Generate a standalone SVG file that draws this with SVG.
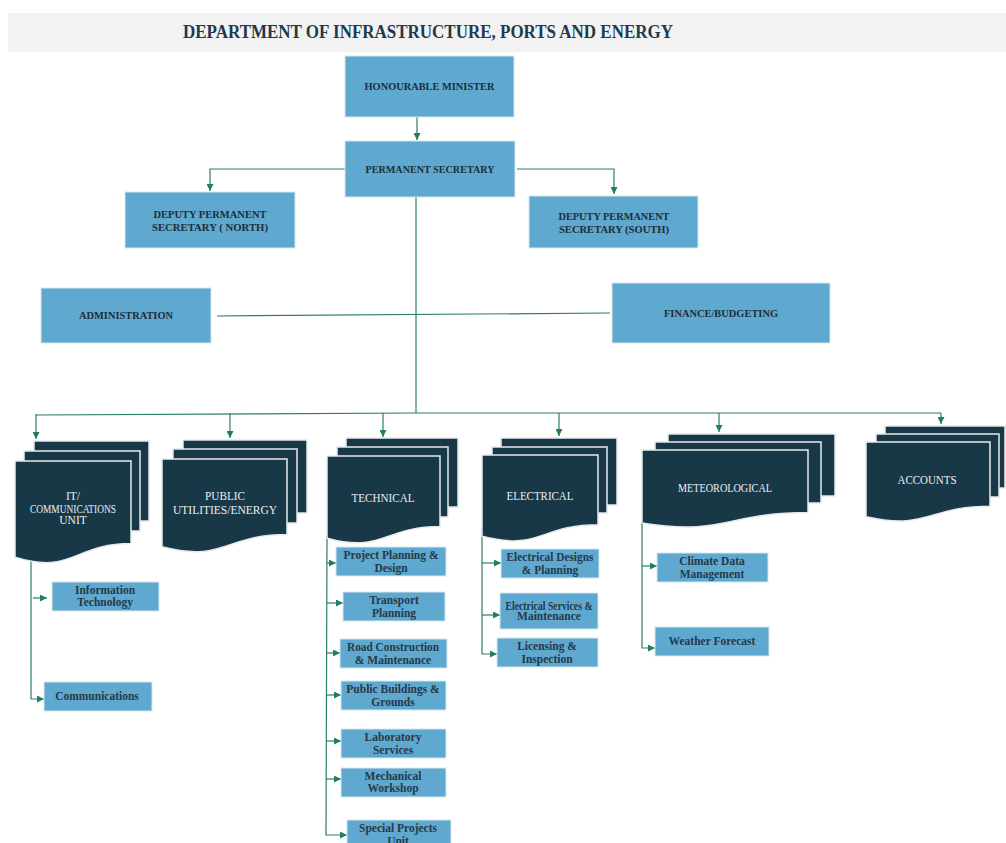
<svg xmlns="http://www.w3.org/2000/svg" width="1006" height="843" viewBox="0 0 1006 843">
<style>
.box{fill:#5fa8cf;stroke:#d6e8f2;stroke-width:1}
.dk{fill:#183848;stroke:#e6eaec;stroke-width:1.5}
.lbl{font-family:"Liberation Serif",serif;font-weight:bold;font-size:11px;fill:#1e2d38;text-anchor:middle}
.sub{font-family:"Liberation Serif",serif;font-weight:bold;font-size:11.5px;fill:#253a47;text-anchor:middle}
.wt{font-family:"Liberation Serif",serif;font-size:11.5px;fill:#e9eff2;text-anchor:middle}
.ln{fill:none;stroke:#2a7f60;stroke-width:1.2}
.ttl{font-family:"Liberation Serif",serif;font-weight:bold;font-size:18px;fill:#1d3a4e;text-anchor:middle}
</style>
<defs>
<marker id="ah" viewBox="0 0 10 10" refX="10" refY="5" markerWidth="7" markerHeight="7" markerUnits="userSpaceOnUse" orient="auto">
<path d="M0,0 L10,5 L0,10 Z" fill="#1e8060"/>
</marker>
</defs>
<rect width="1006" height="843" fill="#ffffff"/>
<g id="title">
<rect x="8" y="13" width="998" height="39" fill="#f2f2f2"/>
<text class="ttl" x="428" y="38" textLength="490" lengthAdjust="spacingAndGlyphs">DEPARTMENT OF INFRASTRUCTURE, PORTS AND ENERGY</text>
</g>
<g id="connectors">
<path class="ln" d="M417,117 V140" marker-end="url(#ah)"/>
<path class="ln" d="M345,169 H210 V191" marker-end="url(#ah)"/>
<path class="ln" d="M517,169 H614 V194" marker-end="url(#ah)"/>
<path class="ln" d="M416,197 V413"/>
<path class="ln" d="M217,316 L610,313"/>
<path class="ln" d="M36,415 L416,413 L941,413"/>
<path class="ln" d="M36,414 V439" marker-end="url(#ah)"/>
<path class="ln" d="M230,413 V438" marker-end="url(#ah)"/>
<path class="ln" d="M383,413 V437" marker-end="url(#ah)"/>
<path class="ln" d="M559,413 V436" marker-end="url(#ah)"/>
<path class="ln" d="M719,413 V432" marker-end="url(#ah)"/>
<path class="ln" d="M941,413 V424" marker-end="url(#ah)"/>
<path class="ln" d="M31,559 V699 H44" marker-end="url(#ah)"/>
<path class="ln" d="M33,598 H47" marker-end="url(#ah)"/>
<path class="ln" d="M327,538 L326,835 H347" marker-end="url(#ah)"/>
<path class="ln" d="M327,563 H336" marker-end="url(#ah)"/>
<path class="ln" d="M327,603 H343" marker-end="url(#ah)"/>
<path class="ln" d="M327,653 H340" marker-end="url(#ah)"/>
<path class="ln" d="M327,695 H341" marker-end="url(#ah)"/>
<path class="ln" d="M326,741 H341" marker-end="url(#ah)"/>
<path class="ln" d="M326,779 H341" marker-end="url(#ah)"/>
<path class="ln" d="M482,528 V654 H497" marker-end="url(#ah)"/>
<path class="ln" d="M482,563 H501" marker-end="url(#ah)"/>
<path class="ln" d="M482,615 H500" marker-end="url(#ah)"/>
<path class="ln" d="M642,522 V648 H655" marker-end="url(#ah)"/>
<path class="ln" d="M642,566 H657" marker-end="url(#ah)"/>
</g>
<g id="minister">
<rect class="box" x="345" y="56" width="169" height="61" stroke="#ffffff" stroke-width="2"/>
<text class="lbl" x="429.5" y="90" textLength="130" lengthAdjust="spacingAndGlyphs">HONOURABLE  MINISTER</text>
</g>
<g id="permanent-secretary">
<rect class="box" x="345" y="141" width="170" height="56"/>
<text class="lbl" x="430" y="173" textLength="129" lengthAdjust="spacingAndGlyphs">PERMANENT SECRETARY</text>
</g>
<g id="deputy-north">
<rect class="box" x="125" y="192" width="170" height="56"/>
<text class="lbl" x="210" y="218" textLength="113" lengthAdjust="spacingAndGlyphs">DEPUTY PERMANENT</text>
<text class="lbl" x="210" y="231" textLength="116" lengthAdjust="spacingAndGlyphs">SECRETARY ( NORTH)</text>
</g>
<g id="deputy-south">
<rect class="box" x="529" y="196" width="169" height="52"/>
<text class="lbl" x="614" y="220" textLength="111" lengthAdjust="spacingAndGlyphs">DEPUTY PERMANENT</text>
<text class="lbl" x="614" y="233" textLength="110" lengthAdjust="spacingAndGlyphs">SECRETARY (SOUTH)</text>
</g>
<g id="administration">
<rect class="box" x="41" y="288" width="170" height="55"/>
<text class="lbl" x="126" y="319" textLength="94" lengthAdjust="spacingAndGlyphs">ADMINISTRATION</text>
</g>
<g id="finance">
<rect class="box" x="612" y="283" width="218" height="60"/>
<text class="lbl" x="721" y="317" textLength="114" lengthAdjust="spacingAndGlyphs">FINANCE/BUDGETING</text>
</g>
<g id="it-unit">
<rect class="dk" x="34" y="441" width="115" height="80"/>
<rect class="dk" x="24" y="451" width="116" height="80"/>
<path class="dk" d="M15,461 H131 V543.6 C73,543.6 73,575 15,557.2 Z"/>
<text class="wt" x="73" y="500" font-size="10">IT/</text>
<text class="wt" x="73" y="513" font-size="10" textLength="86" lengthAdjust="spacingAndGlyphs">COMMUNICATIONS</text>
<text class="wt" x="73" y="524" font-size="10">UNIT</text>
</g>
<g id="public-utilities">
<rect class="dk" x="183" y="440" width="124" height="73"/>
<rect class="dk" x="173" y="449" width="124" height="74"/>
<path class="dk" d="M162,459 H287 V534.4 C224.5,534.4 224.5,563 162,546.8 Z"/>
<text class="wt" x="225" y="500" textLength="40" lengthAdjust="spacingAndGlyphs">PUBLIC</text>
<text class="wt" x="225" y="514" textLength="104" lengthAdjust="spacingAndGlyphs">UTILITIES/ENERGY</text>
</g>
<g id="technical">
<rect class="dk" x="346" y="438" width="112" height="69"/>
<rect class="dk" x="337" y="447" width="111" height="70"/>
<path class="dk" d="M327,456 H440 V526.6 C383.5,526.6 383.5,553.4 327,538.2 Z"/>
<text class="wt" x="383" y="502" textLength="63" lengthAdjust="spacingAndGlyphs">TECHNICAL</text>
</g>
<g id="electrical">
<rect class="dk" x="501" y="438" width="116" height="67"/>
<rect class="dk" x="492" y="447" width="115" height="66"/>
<path class="dk" d="M482,455 H598 V524.8 C540,524.8 540,551.3 482,536.3 Z"/>
<text class="wt" x="540" y="500" textLength="67" lengthAdjust="spacingAndGlyphs">ELECTRICAL</text>
</g>
<g id="meteorological">
<rect class="dk" x="668" y="434" width="167" height="62"/>
<rect class="dk" x="655" y="442" width="166" height="61"/>
<path class="dk" d="M642,450 H808 V512.6 C725,512.6 725,536.3 642,522.9 Z"/>
<text class="wt" x="725" y="492" textLength="94" lengthAdjust="spacingAndGlyphs">METEOROLOGICAL</text>
</g>
<g id="accounts">
<rect class="dk" x="885" y="426" width="120" height="62"/>
<rect class="dk" x="876" y="434" width="123" height="63"/>
<path class="dk" d="M866,442 H990 V506.2 C928,506.2 928,530.6 866,516.7 Z"/>
<text class="wt" x="927" y="484" textLength="59" lengthAdjust="spacingAndGlyphs">ACCOUNTS</text>
</g>
<g id="information-technology">
<rect class="box" x="52" y="582" width="107" height="29"/>
<text class="sub" x="105" y="594">Information</text>
<text class="sub" x="105" y="606">Technology</text>
</g>
<g id="communications">
<rect class="box" x="44" y="682" width="108" height="29"/>
<text class="sub" x="97" y="700">Communications</text>
</g>
<g id="project-planning">
<rect class="box" x="336" y="547" width="110" height="29"/>
<text class="sub" x="391" y="559">Project Planning &amp;</text>
<text class="sub" x="391" y="572">Design</text>
</g>
<g id="transport-planning">
<rect class="box" x="343" y="592" width="102" height="29"/>
<text class="sub" x="394" y="604">Transport</text>
<text class="sub" x="394" y="617">Planning</text>
</g>
<g id="road-construction">
<rect class="box" x="340" y="639" width="107" height="29"/>
<text class="sub" x="393" y="651" textLength="92" lengthAdjust="spacingAndGlyphs">Road Construction</text>
<text class="sub" x="393" y="664">&amp; Maintenance</text>
</g>
<g id="public-buildings">
<rect class="box" x="341" y="681" width="105" height="29"/>
<text class="sub" x="393" y="693">Public Buildings &amp;</text>
<text class="sub" x="393" y="706">Grounds</text>
</g>
<g id="laboratory-services">
<rect class="box" x="341" y="729" width="105" height="29"/>
<text class="sub" x="393" y="741">Laboratory</text>
<text class="sub" x="393" y="754">Services</text>
</g>
<g id="mechanical-workshop">
<rect class="box" x="341" y="768" width="105" height="29"/>
<text class="sub" x="393" y="780">Mechanical</text>
<text class="sub" x="393" y="792">Workshop</text>
</g>
<g id="special-projects">
<rect class="box" x="347" y="820" width="104" height="30"/>
<text class="sub" x="398" y="832">Special Projects</text>
<text class="sub" x="398" y="845">Unit</text>
</g>
<g id="electrical-designs">
<rect class="box" x="501" y="549" width="98" height="29"/>
<text class="sub" x="550" y="561" textLength="87" lengthAdjust="spacingAndGlyphs">Electrical Designs</text>
<text class="sub" x="550" y="574">&amp; Planning</text>
</g>
<g id="electrical-services">
<rect class="box" x="500" y="593" width="98" height="36"/>
<text class="sub" x="549" y="610" font-size="8" textLength="87" lengthAdjust="spacingAndGlyphs">Electrical Services &amp;</text>
<text class="sub" x="549" y="620" font-size="8">Maintenance</text>
</g>
<g id="licensing">
<rect class="box" x="497" y="638" width="101" height="29"/>
<text class="sub" x="547" y="650">Licensing &amp;</text>
<text class="sub" x="547" y="663">Inspection</text>
</g>
<g id="climate-data">
<rect class="box" x="657" y="553" width="111" height="29"/>
<text class="sub" x="712" y="565" fill="#111a20">Climate Data</text>
<text class="sub" x="712" y="578" fill="#111a20">Management</text>
</g>
<g id="weather-forecast">
<rect class="box" x="655" y="627" width="114" height="29"/>
<text class="sub" x="712" y="645" fill="#111a20">Weather Forecast</text>
</g>
</svg>
